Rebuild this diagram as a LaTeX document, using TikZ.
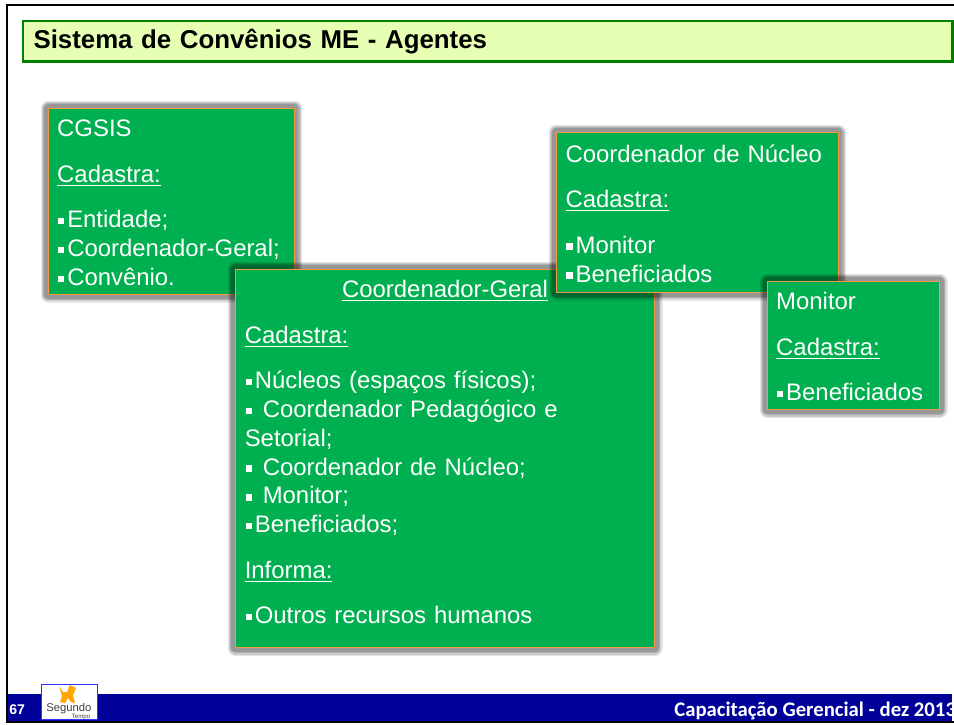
\documentclass[tikz,border=0pt]{standalone}
\usepackage{fontspec}
\setmainfont{Liberation Sans}
\newfontfamily\footfont{Carlito}
\definecolor{cardgreen}{HTML}{00B050}
\definecolor{cardline}{HTML}{F79646}
\definecolor{titlefill}{HTML}{E6FFB3}
\definecolor{titleline}{HTML}{008000}
\definecolor{footblue}{HTML}{000099}
\newcommand{\sqb}{\hspace*{.4pt}\rule[1.9pt]{3.7pt}{3.7pt}\hspace{1.6pt}}
\begin{document}
\begin{tikzpicture}[x=0.02cm,y=-0.02cm]
  \tikzstyle{title}=[draw=titleline,line width=1.7pt,fill=titlefill,anchor=north west,minimum height=23pt,text width=517pt,align=left,inner xsep=6pt,inner ysep=0pt,font=\fontsize{14.7}{17}\selectfont\bfseries]
  \tikzstyle{card}=[draw=cardline,line width=0.5pt,fill=cardgreen,text=white,anchor=north west,align=left,inner xsep=5pt,inner ysep=0pt,font=\fontsize{13.6}{16.4}\selectfont,
    preaction={draw=black,opacity=.10,line width=9pt,line join=round},
    preaction={draw=black,opacity=.12,line width=7.5pt,line join=round},
    preaction={draw=black,opacity=.12,line width=6pt,line join=round},
    preaction={draw=black,opacity=.14,line width=4.5pt,line join=round}]
  \useasboundingbox (0,0) rectangle (954,724);
  \fill[white] (0,0) rectangle (954,724);
  % frame
  \draw[black,line width=1.2pt] (7,5) rectangle (970,722);
  % footer
  \node[fill=footblue,minimum width=947*0.5669pt,minimum height=27*0.5669pt,inner sep=0pt,anchor=north west] (footer) at (8,694) {};
  \node[text=white,font=\fontsize{8}{9}\selectfont\bfseries,anchor=base west,inner sep=0pt] (page) at (9,714) {67};
  \node[text=white,font=\footfont\fontsize{11.8}{14}\selectfont\bfseries,anchor=base west,inner sep=0pt] (event) at (674,716) {Capacitação Gerencial - dez 2013};
  % logo
  \node[draw=blue!80!white,line width=0.6pt,fill=white,minimum width=32pt,minimum height=20pt,inner sep=0pt,anchor=north west] (logo) at (40.5,683.5) {};
  \node[font=\fontsize{6.4}{8}\selectfont,text=black!75,inner sep=0pt,anchor=base] (segundo) at (69,711) {Segundo};
  \node[font=\fontsize{3.5}{4}\selectfont,text=black!75,inner sep=0pt,anchor=base] (tempo) at (81,718) {Tempo};
  \fill[orange!70!yellow] (59,686) -- (63,692) -- (67,692) -- (70,685) -- (76,688) -- (73,695) -- (75,703) -- (71,702) -- (68,698) -- (65,703) -- (60,702) -- (62,696) -- cycle;
  % title
  \node[title] (sistema) at (21.5,19.5) {Sistema de Convênios ME - Agentes};
  % boxes
  \node[card,minimum width=247*0.5669pt,minimum height=187*0.5669pt,text width=130pt] (cgsis) at (48,108)
    {\rule{0pt}{11pt}CGSIS\\[9.5pt]\underline{Cadastra:}\\[9.5pt]\sqb Entidade;\\\sqb Coordenador-Geral;\\\sqb Convênio.};
  \node[card,minimum width=421*0.5669pt,minimum height=380*0.5669pt,text width=228pt] (geral) at (235,269)
    {\hfill\underline{Coordenador-Geral}\hfill\null\\[9.5pt]\underline{Cadastra:}\\[9.5pt]\sqb Núcleos (espaços físicos);\\\sqb{} Coordenador Pedagógico e\\Setorial;\\\sqb{} Coordenador de Núcleo;\\\sqb{} Monitor;\\\sqb Beneficiados;\\[9.5pt]\underline{Informa:}\\[9.5pt]\sqb Outros recursos humanos\rule[-7.5pt]{0pt}{7.5pt}};
  \node[card,minimum width=283*0.5669pt,minimum height=161*0.5669pt,text width=150pt] (nucleo) at (556,132)
    {\rule{0pt}{11pt}Coordenador de Núcleo\\[9.5pt]\underline{Cadastra:}\\[9.5pt]\sqb Monitor\\\sqb Beneficiados};
  \node[card,minimum width=172*0.5669pt,minimum height=129*0.5669pt,text width=88pt] (monitor) at (767,281)
    {\rule{0pt}{11pt}Monitor\\[9.5pt]\underline{Cadastra:}\\[9.5pt]\sqb Beneficiados};
\end{tikzpicture}
\end{document}
